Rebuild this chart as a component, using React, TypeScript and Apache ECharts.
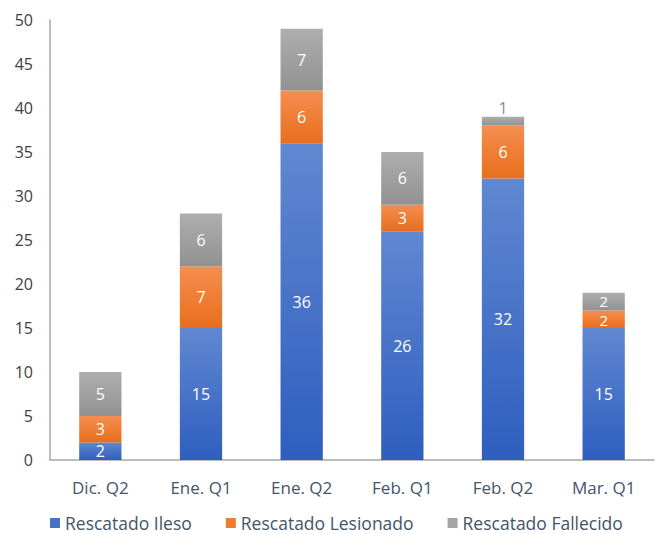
import React, { useEffect, useRef } from "react";
import * as echarts from "echarts";

const categories = ["Dic. Q2", "Ene. Q1", "Ene. Q2", "Feb. Q1", "Feb. Q2", "Mar. Q1"];
const ileso = [2, 15, 36, 26, 32, 15];
const lesionado = [3, 7, 6, 3, 6, 2];
const fallecido = [5, 6, 7, 6, 1, 2];
const seriesNames = ["Rescatado Ileso", "Rescatado Lesionado", "Rescatado Fallecido"];

const FONT = "'Open Sans', 'Noto Sans', sans-serif";

function grad(top: string, bottom: string) {
  return new echarts.graphic.LinearGradient(0, 0, 0, 1, [
    { offset: 0, color: top },
    { offset: 1, color: bottom },
  ]);
}

export default function App() {
  const ref = useRef<HTMLDivElement>(null);
  useEffect(() => {
    if (!ref.current) return;
    const chart = echarts.init(ref.current, undefined, { renderer: "svg" });
    const label = {
      show: true,
      position: "inside" as const,
      color: "#ffffff",
      fontSize: 16,
      lineHeight: 14,
      fontFamily: FONT,
    };
    const data = [ileso, lesionado, fallecido];
    const colors = [
      ["#6088D1", "#2F5EBF"],
      ["#F58E50", "#E86E1C"],
      ["#AEAEAE", "#919191"],
    ];
    const legendColors = ["#4472C4", "#ED7D31", "#A5A5A5"];
    const seriesData = (i: number) =>
      data[i].map((v, j) => {
        if (i === 2 && v < 2) {
          return { value: v, label: { position: "top", distance: 2, color: "#8C8C8C" } };
        }
        // adjacent thin segments: nudge labels apart so they do not touch
        if (i > 0 && v <= 2 && data[i === 1 ? 2 : 1][j] <= 2) {
          return {
            value: v,
            label: { fontSize: 15, lineHeight: 13, offset: [0, i === 2 ? -1 : 1] },
          };
        }
        return v;
      });
    chart.setOption({
      animation: false,
      grid: { left: 50, right: 3, top: 20, bottom: 74, containLabel: false },
      legend: {
        top: 514,
        left: 50,
        padding: 0,
        itemWidth: 10,
        itemHeight: 10,
        itemGap: 34,
        icon: "rect",
        textStyle: { color: "#44546A", fontSize: 17.5, fontFamily: FONT },
        data: seriesNames.map((n, i) => ({ name: n, itemStyle: { color: legendColors[i] } })),
      },
      xAxis: {
        type: "category",
        data: categories,
        axisLine: { lineStyle: { color: "#A6A6A6", width: 1.5 } },
        axisTick: { show: false },
        axisLabel: { color: "#44546A", fontSize: 17, fontFamily: FONT, margin: 19 },
      },
      yAxis: {
        type: "value",
        min: 0,
        max: 50,
        interval: 5,
        splitLine: { show: false },
        axisLine: { show: true, lineStyle: { color: "#A6A6A6", width: 1.5 } },
        axisTick: { show: false },
        axisLabel: { color: "#404040", fontSize: 16, fontFamily: FONT, margin: 17 },
      },
      series: seriesNames.map((name, i) => ({
        name,
        type: "bar",
        stack: "total",
        barWidth: "42%",
        data: seriesData(i),
        label,
        itemStyle: { color: grad(colors[i][0], colors[i][1]) },
      })),
    });
    return () => chart.dispose();
  }, []);
  return (
    <div
      ref={ref}
      style={{ position: "absolute", left: 0, top: 0, width: 657, height: 534 }}
    />
  );
}
